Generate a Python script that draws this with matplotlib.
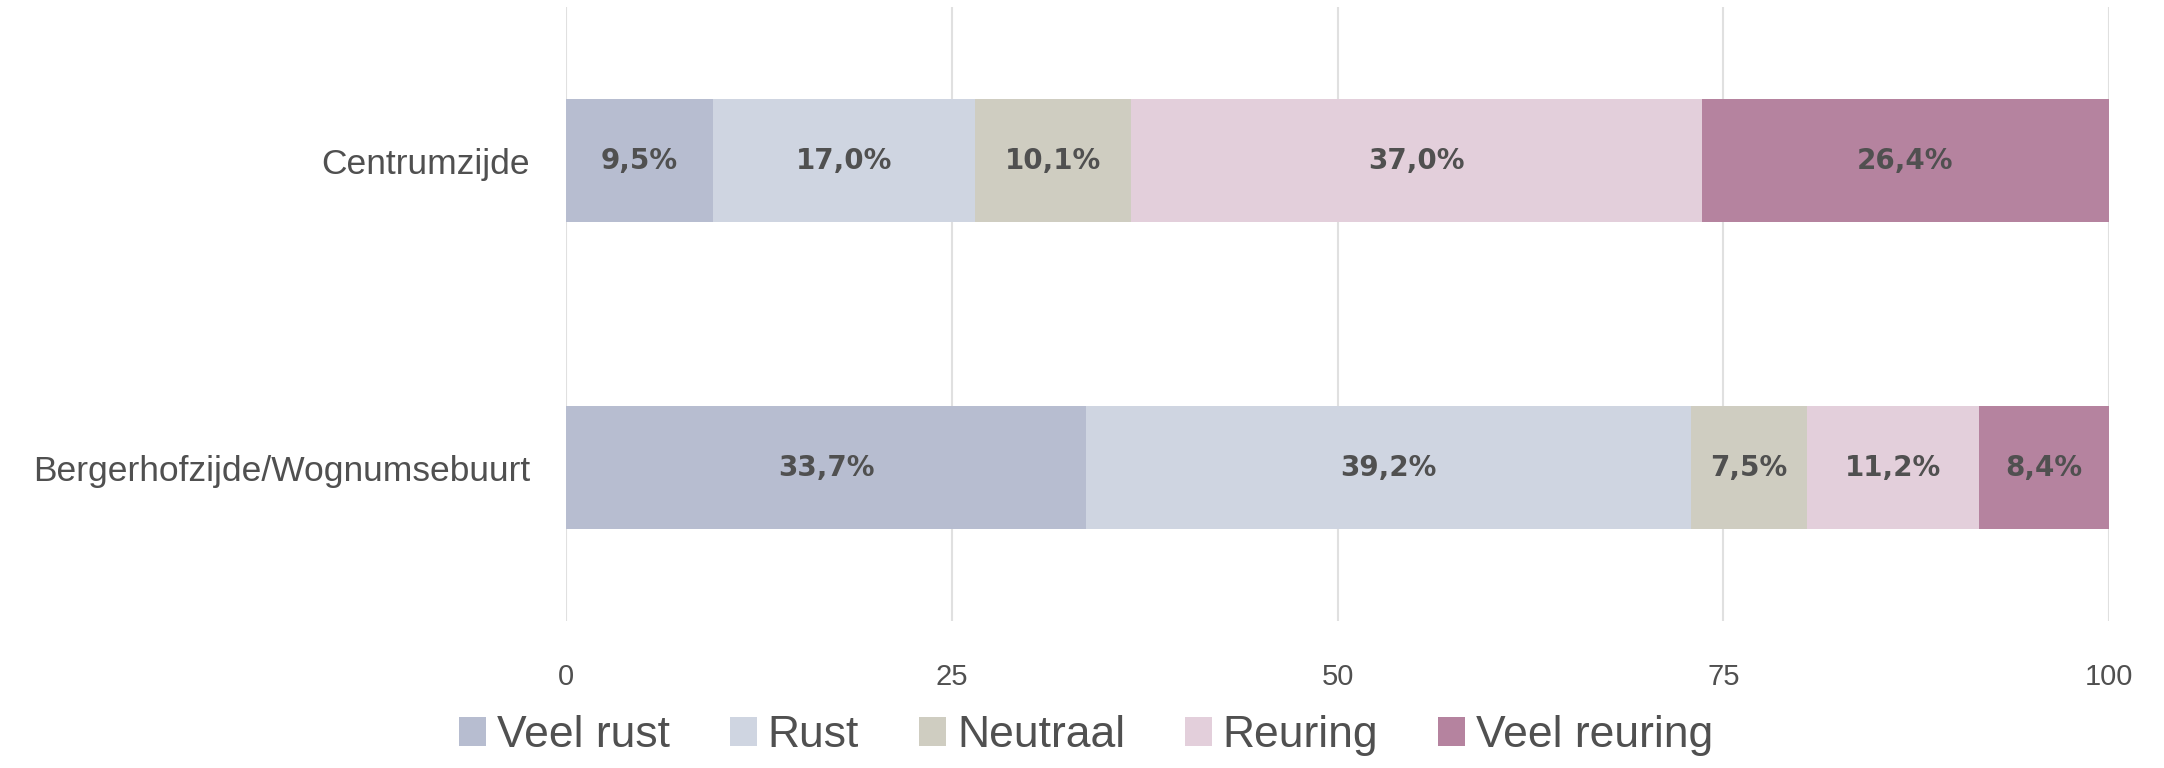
import matplotlib
matplotlib.use('Agg')
from matplotlib import pyplot as plt
import numpy as np

# data
categories = ['Centrumzijde', 'Bergerhofzijde/Wognumsebuurt']
series = ['Veel rust', 'Rust', 'Neutraal', 'Reuring', 'Veel reuring']
values = {
    'Veel rust':    [9.5, 33.7],
    'Rust':         [17.0, 39.2],
    'Neutraal':     [10.1, 7.5],
    'Reuring':      [37.0, 11.2],
    'Veel reuring': [26.4, 8.4],
}
xticks = [0, 25, 50, 75, 100]

colors = ['#b7bdd0', '#cfd5e1', '#cfcdc1', '#e3cfdb', '#b5839f']
text_col = '#505050'

plt.rcParams['font.family'] = ['Liberation Sans', 'DejaVu Sans']

fig = plt.figure(figsize=(21.64, 7.68), dpi=100)
ax = fig.add_axes([0.2616, 0.191, 0.9746 - 0.2616, 0.991 - 0.191])

y = np.arange(len(categories))
left = np.zeros(len(categories))
for name, col in zip(series, colors):
    vals = np.array(values[name])
    ax.barh(y, vals, left=left, height=0.4, color=col, label=name, zorder=2)
    for yi, l, v in zip(y, left, vals):
        ax.text(l + v / 2, yi, f'{v:.1f}%'.replace('.', ','), ha='center', va='center',
                fontsize=20, fontweight='bold', color=text_col, family='DejaVu Sans', zorder=3)
    left += vals

ax.set_ylim(1.5, -0.5)
ax.set_xlim(0, 100)
ax.set_yticks(y)
ax.set_yticklabels(categories, fontsize=25.5, color=text_col)
ax.set_xticks(xticks)
ax.set_xticklabels([str(t) for t in xticks], fontsize=21, color=text_col)
ax.tick_params(axis='both', length=0)
ax.tick_params(axis='y', pad=26)
ax.tick_params(axis='x', pad=30)
ax.grid(axis='x', color='#e0e0e0', linewidth=1.5, zorder=0)
for s in ax.spines.values():
    s.set_visible(False)

fig.legend(loc='center', bbox_to_anchor=(0.502, 0.042), ncol=5, frameon=False,
           fontsize=32, handlelength=0.6, handleheight=0.6, handletextpad=0.25,
           columnspacing=1.35, labelcolor=text_col)

fig.savefig('out.png', dpi=100)
